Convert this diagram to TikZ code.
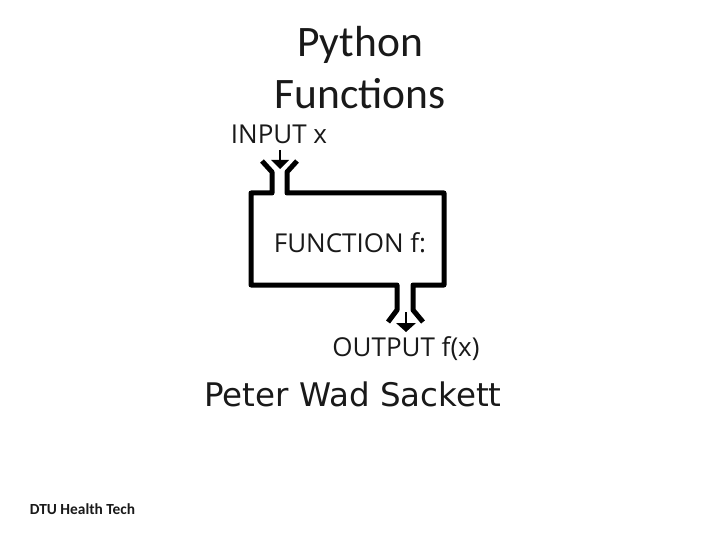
\documentclass[tikz,border=0pt]{standalone}
\usepackage{fontspec}
\setmainfont{Carlito}
\newfontfamily\labelfont{Open Sans}
\newfontfamily\authorfont{DejaVu Sans}
\tikzset{
  x=1pt,y=-1pt,
  pipe/.style={line width=5pt,black,line join=round,line cap=butt},
  shaft/.style={line width=1.2pt,black},
  head/.style={fill=black,draw=none},
  titletext/.style={inner sep=0pt,anchor=base,font=\fontsize{43.5}{43.5}\selectfont,text=black!90},
  labeltext/.style={inner sep=0pt,anchor=base,font=\labelfont\fontsize{26}{26}\selectfont,text=black!90},
}
\begin{document}
\begin{tikzpicture}
\useasboundingbox (0,0) rectangle (720,540);
\fill[white] (0,0) rectangle (720,540);
\node[titletext] (t1) at (360,57) {Python};
\node[titletext] (t2) at (360,109) {Functions};
\node[labeltext] (in) at (279,144) {INPUT x};
\node[labeltext] (fn) at (350,252) {FUNCTION f:};
\node[labeltext] (out) at (406,356) {OUTPUT f(x)};
\node[inner sep=0pt,anchor=base,font=\authorfont\fontsize{32.5}{32.5}\selectfont,text=black!90] (author) at (353,406) {Peter Wad Sackett};
\node[inner sep=0pt,anchor=base,font=\bfseries\fontsize{15.4}{15.4}\selectfont,text=black!90] (logo) at (82.5,514) {DTU Health Tech};
\draw[pipe] (262,161) -- (272,172) -- (272,193) -- (251,193) -- (251,285) -- (397,285) -- (397,310) -- (388,322);
\draw[pipe] (297,161) -- (287,172) -- (287,193) -- (444,193) -- (444,285) -- (413,285) -- (413,310) -- (423,322);
\draw[shaft] (280,150) -- (280,161);
\fill[head] (271,160) -- (289,160) -- (280,169) -- cycle;
\draw[shaft] (406,312) -- (406,324);
\fill[head] (396,323) -- (416,323) -- (406,332) -- cycle;
\end{tikzpicture}
\end{document}
